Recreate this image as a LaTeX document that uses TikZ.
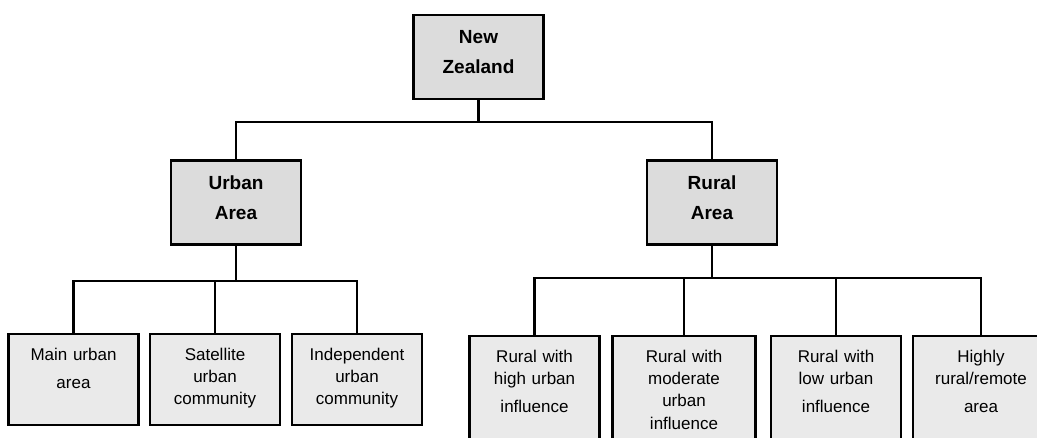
\documentclass[tikz,border=0pt]{standalone}
\usepackage{fontspec}
\setmainfont{Liberation Sans}
\usetikzlibrary{positioning}
\definecolor{headgray}{HTML}{DCDCDC}
\definecolor{leafgray}{HTML}{EAEAEA}

\begin{document}
\begin{tikzpicture}[x=0.5pt, y=-0.5pt,
    head/.style={draw, line width=1.1pt, fill=headgray, minimum width=65pt, minimum height=42pt, text width=55pt, text height=7pt, text depth=20pt, align=center, font=\fontsize{9.5}{15}\selectfont\bfseries},
    leaf/.style={draw, line width=1.1pt, fill=leafgray, anchor=north, inner sep=0pt, align=center, text width=65pt, text height=13pt, font=\fontsize{8.5}{11.2}\selectfont},
    link/.style={draw, line width=1.05pt}
]
    \useasboundingbox (0,0) rectangle (1037,438);
    \clip (0,0) rectangle (1037,438);
    \fill[white] (0,0) rectangle (1037,438);

    \node[head] (nz)  at (478.5,57)  {New\\Zealand};
    \node[head] (urb) at (236,202.5) {Urban\\Area};
    \node[head] (rur) at (712,202.5) {Rural\\Area};

    \node[leaf, text depth=32.5pt] (mua) at (73.5,333) {Main urban\\[2.75pt]area};
    \node[leaf, text depth=32.5pt] (suc) at (215,333)  {Satellite\\urban\\community};
    \node[leaf, text depth=32.5pt] (iuc) at (357,333)  {Independent\\urban\\community};

    \node[leaf, text depth=60pt] (rhi) at (534.5,335) {Rural with\\high urban\\[2.75pt]influence};
    \node[leaf, text depth=60pt, text width=71.5pt] (rmi) at (684,335) {Rural with\\moderate\\urban\\influence};
    \node[leaf, text depth=60pt] (rli) at (836,335) {Rural with\\low urban\\[2.75pt]influence};
    \node[leaf, text depth=60pt, text width=68pt] (hrr) at (981,335) {Highly\\rural/remote\\[2.75pt]area};

    \coordinate (topbus) at (0,122);
    \coordinate (urbbus) at (0,281);
    \coordinate (rurbus) at (0,278);

    \draw[link] (nz.south) -- (nz.south |- topbus);
    \draw[link] (urb.north) -- (urb.north |- topbus) -- (rur.north |- topbus) -- (rur.north);
    \draw[link] (urb.south) -- (urb.south |- urbbus);
    \draw[link] (mua.north) -- (mua.north |- urbbus) -- (iuc.north |- urbbus) -- (iuc.north);
    \draw[link] (suc.north) -- (suc.north |- urbbus);
    \draw[link] (rur.south) -- (rur.south |- rurbus);
    \draw[link] (rhi.north) -- (rhi.north |- rurbus) -- (hrr.north |- rurbus) -- (hrr.north);
    \draw[link] (rmi.north) -- (rmi.north |- rurbus);
    \draw[link] (rli.north) -- (rli.north |- rurbus);
\end{tikzpicture}
\end{document}
